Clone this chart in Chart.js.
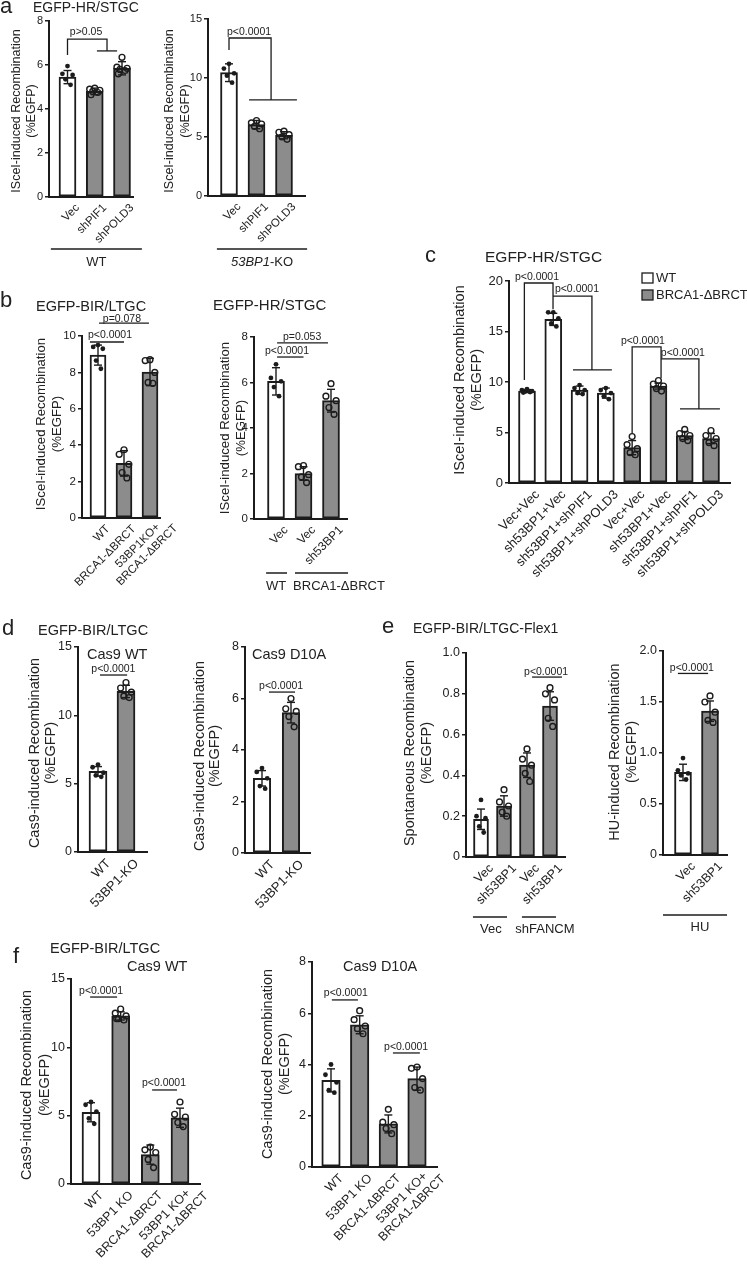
<!DOCTYPE html>
<html>
<head>
<meta charset="utf-8">
<script src="https://cdn.jsdelivr.net/npm/chart.js@4.4.1/dist/chart.umd.min.js"></script>
<style>
  html, body { margin: 0; padding: 0; background: #fff; }
  #page { position: relative; width: 747px; height: 1275px; overflow: hidden; }
  #page canvas { position: absolute; left: 0; top: 0; }
</style>
</head>
<body>
<div id="page"></div>
<script>
// ---- data ----
// a: EGFP-HR/STGC
const aCats = ['Vec', 'shPIF1', 'shPOLD3'];
const aWtMean = [5.45, 4.8, 5.85];
const aWtSd = [0.3, 0.15, 0.3];
const aWtDots = [[5.95, 5.6, 5.55, 5.35, 5.1], [4.95, 4.9, 4.85, 4.8, 4.75, 4.65], [6.35, 5.9, 5.85, 5.8, 5.75, 5.6]];
const aKoMean = [10.45, 6.05, 5.15];
const aKoSd = [0.75, 0.35, 0.3];
const aKoDots = [[11.2, 10.8, 10.4, 10.2, 9.6], [6.4, 6.2, 6.1, 5.9, 5.7], [5.5, 5.4, 5.2, 5.0, 4.8]];

// b
const bBirCats = ['WT', 'BRCA1-ΔBRCT', ['53BP1KO+', 'BRCA1-ΔBRCT']];
const bBirMean = [8.95, 3.0, 8.02];
const bBirSd = [0.55, 0.7, 0.75];
const bBirDots = [[9.5, 9.4, 9.3, 8.65, 8.2], [3.75, 3.5, 2.95, 2.5, 2.2], [8.7, 8.65, 8.0, 7.45, 7.4]];
const bHrCats = ['Vec', 'Vec', 'sh53BP1'];
const bHrMean = [6.05, 2.0, 5.2];
const bHrSd = [0.6, 0.3, 0.5];
const bHrDots = [[6.8, 6.2, 6.05, 5.8, 5.4], [2.35, 2.3, 1.95, 1.85, 1.6], [5.95, 5.4, 5.2, 4.9, 4.6]];

// c
const cCats = ['Vec+Vec', 'sh53BP1+Vec', 'sh53BP1+shPIF1', 'sh53BP1+shPOLD3',
               'Vec+Vec', 'sh53BP1+Vec', 'sh53BP1+shPIF1', 'sh53BP1+shPOLD3'];
const cSeries = ['WT', 'BRCA1-ΔBRCT'];
const cMean = [9.1, 16.2, 9.2, 8.9, 3.5, 9.6, 4.7, 4.4];
const cSd = [0.15, 0.6, 0.4, 0.5, 0.7, 0.3, 0.4, 0.5];
const cDots = [[9.3, 9.2, 9.1, 9.05, 9.0, 8.95], [16.9, 16.9, 16.3, 15.8, 15.5], [9.7, 9.4, 9.2, 8.9, 8.8],
               [9.4, 9.2, 8.9, 8.6, 8.3], [4.6, 3.8, 3.4, 3.0, 2.8], [10.15, 9.8, 9.6, 9.35, 9.1],
               [5.3, 4.9, 4.7, 4.4, 4.2], [5.2, 4.7, 4.4, 4.0, 3.7]];

// d
const dCats = ['WT', '53BP1-KO'];
const dWtMean = [5.9, 11.75];
const dWtSd = [0.35, 0.45];
const dWtDots = [[6.4, 6.2, 5.8, 5.6, 5.5], [12.4, 12.0, 11.7, 11.4, 11.3]];
const dNickMean = [2.9, 5.45];
const dNickSd = [0.3, 0.4];
const dNickDots = [[3.3, 3.15, 2.9, 2.6, 2.5], [6.0, 5.6, 5.5, 5.3, 4.9]];

// e
const eSponCats = ['Vec', 'sh53BP1', 'Vec', 'sh53BP1'];
const eSponMean = [0.185, 0.25, 0.45, 0.74];
const eSponSd = [0.05, 0.05, 0.06, 0.07];
const eSponDots = [[0.28, 0.2, 0.19, 0.15, 0.12], [0.33, 0.27, 0.25, 0.22, 0.2],
                   [0.53, 0.48, 0.45, 0.41, 0.37], [0.83, 0.8, 0.77, 0.68, 0.64]];
const eHuCats = ['Vec', 'sh53BP1'];
const eHuMean = [0.81, 1.41];
const eHuSd = [0.08, 0.1];
const eHuDots = [[0.95, 0.83, 0.8, 0.78, 0.74], [1.56, 1.5, 1.4, 1.32, 1.3]];

// f
const fCats = ['WT', '53BP1 KO', 'BRCA1-ΔBRCT', ['53BP1 KO+', 'BRCA1-ΔBRCT']];
const fWtMean = [5.25, 12.3, 2.15, 4.85];
const fWtSd = [0.7, 0.3, 0.7, 0.7];
const fWtDots = [[6.0, 5.8, 5.3, 4.8, 4.4], [12.8, 12.5, 12.3, 12.1, 12.0, 12.1],
                 [2.7, 2.5, 2.3, 1.8, 1.2], [6.0, 5.1, 4.9, 4.5, 4.2]];
const fNickMean = [3.38, 5.55, 1.68, 3.45];
const fNickSd = [0.45, 0.35, 0.35, 0.45];
const fNickDots = [[4.0, 3.6, 3.3, 3.0, 2.9], [6.1, 5.75, 5.5, 5.4, 5.2],
                   [2.25, 1.75, 1.65, 1.5, 1.3], [3.9, 3.85, 3.45, 3.1, 3.0]];

// ---- drawing ----
const W = 747, H = 1275;
const FONT = '"Liberation Sans", Arial, sans-serif';
const INK = '#1c1c1c';
const GREY = '#8c8c8c';
const JIT = [0, -0.3, 0.3, -0.12, 0.18, -0.22];
const page = document.getElementById('page');

function drawText(ctx, t, x, y, size, align) {
  const segs = Array.isArray(t) ? t : [[t, '']];
  const fontOf = s => (s[1] ? 'italic ' : '') + size + 'px ' + FONT;
  let w = 0;
  segs.forEach(s => { ctx.font = fontOf(s); w += ctx.measureText(s[0]).width; });
  let cx = align === 'left' ? x : (align === 'right' ? x - w : x - w / 2);
  ctx.textAlign = 'left';
  segs.forEach(s => {
    ctx.font = fontOf(s);
    ctx.fillText(s[0], cx, y);
    cx += ctx.measureText(s[0]).width;
  });
}

function poly(ctx, pts) {
  ctx.beginPath();
  pts.forEach(([x, y], i) => i ? ctx.lineTo(x, y) : ctx.moveTo(x, y));
  ctx.stroke();
}

function decorate(chart, p) {
  const ctx = chart.ctx;
  const X = v => chart.scales.x.getPixelForValue(v);
  const Y = v => chart.scales.y.getPixelForValue(v);
  ctx.save();
  ctx.strokeStyle = INK;
  ctx.fillStyle = '#222';

  // error bars (mean +/- SD)
  ctx.lineWidth = 1.4;
  p.means.forEach((m, i) => {
    const x = X(i), t = Y(m + p.sd[i]), b = Y(m - p.sd[i]), c = 4;
    poly(ctx, [[x, t], [x, b]]);
    poly(ctx, [[x - c, t], [x + c, t]]);
    poly(ctx, [[x - c, b], [x + c, b]]);
  });

  // category labels, 45 degrees, ending just right of the bar centre
  const lh = p.lf * 1.15;
  p.labels.forEach((lab, i) => {
    const lines = Array.isArray(lab) ? lab : [lab];
    ctx.save();
    ctx.translate(X(i) + 6, chart.chartArea.bottom + 5);
    ctx.rotate(-Math.PI / 4);
    ctx.font = p.lf + 'px ' + FONT;
    ctx.textBaseline = 'top';
    const w0 = ctx.measureText(lines[0]).width;
    const shift = -(lines.length - 1) * lh * 0.2;
    lines.forEach((ln, k) => {
      ctx.textAlign = k === 0 ? 'right' : 'center';
      ctx.fillText(ln, k === 0 ? 0 : -w0 / 2, shift + k * lh);
    });
    ctx.restore();
  });

  // significance brackets and p values
  ctx.lineWidth = 1.3;
  ctx.textBaseline = 'middle';
  (p.marks || []).forEach(m => {
    if (m.path) poly(ctx, m.path.map(([a, b]) => [X(a), Y(b)]));
    if (m.text) drawText(ctx, m.text, X(m.tx), Y(m.ty), 10.5, 'center');
  });

  // group lines under the axis
  ctx.lineWidth = 1.5;
  (p.groups || []).forEach(g => {
    poly(ctx, [[X(g.x0), g.y], [X(g.x1), g.y]]);
    const tx = g.tx !== undefined ? X(g.tx) : (X(g.x0) + X(g.x1)) / 2;
    drawText(ctx, g.text, tx, g.ty, 13, 'center');
  });

  // y axis title
  if (p.yTitle) {
    p.yTitle.lines.forEach((ln, k) => {
      ctx.save();
      ctx.translate(p.yTitle.x[k], p.yTitle.y);
      ctx.rotate(-Math.PI / 2);
      drawText(ctx, ln, 0, 0, p.yTitle.size, 'center');
      ctx.restore();
    });
  }

  // legend
  if (p.legend) {
    p.legend.names.forEach((name, k) => {
      const y = p.legend.y[k];
      ctx.fillStyle = p.legend.fills[k];
      ctx.fillRect(p.legend.x, y, 11, 10);
      ctx.lineWidth = 1.3;
      ctx.strokeRect(p.legend.x, y, 11, 10);
      ctx.fillStyle = '#222';
      drawText(ctx, name, p.legend.x + 14, y + 5.5, 13, 'left');
    });
  }

  // panel letters and titles
  ctx.textBaseline = 'alphabetic';
  (p.page || []).forEach(t => drawText(ctx, t.t, t.x, t.y, t.size, 'left'));
  ctx.restore();
}

function panel(p) {
  const canvas = document.createElement('canvas');
  canvas.width = W;
  canvas.height = H;
  page.appendChild(canvas);
  const n = p.labels.length;
  const sp = (p.c1 - p.c0) / (n - 1);
  const xmin = -(p.c0 - p.l) / sp;
  const xmax = (n - 1) + (p.r - p.c1) / sp;
  const isGrey = i => p.fill[i] === 'g';
  const dots = [], dotBg = [], dotR = [], dotBw = [];
  p.dots.forEach((arr, i) => arr.forEach((v, k) => {
    dots.push({ x: i + JIT[k % JIT.length] * p.bw / sp, y: v });
    const open = p.open[i];
    dotBg.push(open ? 'rgba(0,0,0,0)' : INK);
    dotR.push(open ? 2.9 : 2.4);
    dotBw.push(open ? 1.4 : 0);
  }));
  const YW = 30;
  const XH = Math.min(130, H - p.b);

  new Chart(canvas, {
    type: 'bar',
    data: {
      datasets: [
        {
          type: 'scatter',
          data: dots,
          pointRadius: dotR,
          pointBackgroundColor: dotBg,
          pointBorderColor: INK,
          pointBorderWidth: dotBw,
          clip: false,
          order: 0
        },
        {
          type: 'bar',
          data: p.means.map((m, i) => ({ x: i, y: m })),
          backgroundColor: p.means.map((_, i) => isGrey(i) ? GREY : '#ffffff'),
          borderColor: INK,
          borderWidth: 2,
          borderSkipped: false,
          barThickness: p.bw,
          order: 1
        }
      ]
    },
    options: {
      responsive: false,
      animation: false,
      events: [],
      layout: { padding: { left: p.l - YW, right: W - p.r, top: p.t, bottom: H - p.b - XH } },
      plugins: { legend: { display: false }, tooltip: { enabled: false } },
      scales: {
        x: {
          type: 'linear',
          min: xmin,
          max: xmax,
          offset: false,
          grid: { display: false, drawTicks: false },
          border: { display: true, color: INK, width: 2 },
          afterBuildTicks: s => { s.ticks = p.labels.map((_, i) => ({ value: i })); },
          afterFit: s => { s.height = XH; },
          ticks: { display: false }
        },
        y: {
          min: 0,
          max: p.ymax,
          afterFit: s => { s.width = YW; },
          grid: { display: true, drawOnChartArea: false, drawTicks: true, tickLength: 4, color: INK, lineWidth: 1.5 },
          border: { display: true, color: INK, width: 2 },
          ticks: {
            stepSize: p.step,
            padding: 2,
            color: '#222',
            font: { family: FONT, size: p.tf },
            callback: p.fmt || (v => v)
          }
        }
      }
    },
    plugins: [{ id: 'decor', afterDraw: chart => decorate(chart, p) }]
  });
}

const dec1 = v => v === 0 ? '0' : v.toFixed(1);

// a
panel({
  labels: aCats, means: aWtMean, sd: aWtSd, dots: aWtDots,
  fill: ['w', 'g', 'g'], open: [false, true, true],
  l: 49, r: 133, t: 21, b: 197, c0: 67.5, c1: 122, bw: 17, ymax: 8, step: 2, tf: 11, lf: 11.5,
  marks: [
    { path: [[0, 6.45], [0, 7.18], [1.45, 7.18], [1.45, 6.64]] },
    { path: [[1.08, 6.64], [1.82, 6.64]] },
    { text: 'p>0.05', tx: 0.68, ty: 7.5 }
  ],
  groups: [{ x0: -0.61, x1: 2.73, y: 249, text: 'WT', ty: 262 }],
  yTitle: { lines: ['ISceI-induced Recombination', '(%EGFP)'], x: [17, 32], y: 111, size: 12.5 },
  page: [{ t: 'a', x: 0, y: 13, size: 22 }, { t: 'EGFP-HR/STGC', x: 33, y: 12, size: 14 }]
});
panel({
  labels: aCats, means: aKoMean, sd: aKoSd, dots: aKoDots,
  fill: ['w', 'g', 'g'], open: [false, true, true],
  l: 208, r: 305, t: 19, b: 196, c0: 229, c1: 284, bw: 17, ymax: 15, step: 5, tf: 11, lf: 11.5,
  marks: [
    { path: [[0, 12.37], [0, 13.39], [1.53, 13.39], [1.53, 8.14]] },
    { path: [[0.73, 8.14], [2.47, 8.14]] },
    { text: 'p<0.0001', tx: 0.73, ty: 13.9 }
  ],
  groups: [{ x0: -0.44, x1: 2.84, y: 249, text: [['53BP1', 'i'], ['-KO', '']], ty: 262 }],
  yTitle: { lines: ['ISceI-induced Recombination', '(%EGFP)'], x: [170, 186], y: 111, size: 12.5 }
});

// b
panel({
  labels: bBirCats, means: bBirMean, sd: bBirSd, dots: bBirDots,
  fill: ['w', 'g', 'g'], open: [false, true, true],
  l: 82, r: 160, t: 336, b: 518, c0: 98, c1: 150, bw: 16, ymax: 10, step: 2, tf: 11.5, lf: 11.5,
  marks: [
    { path: [[-0.31, 9.67], [1.0, 9.67]] },
    { text: 'p<0.0001', tx: 0.46, ty: 10.05 },
    { path: [[0.04, 10.71], [1.96, 10.71]] },
    { text: 'p=0.078', tx: 0.92, ty: 10.95 }
  ],
  yTitle: { lines: ['ISceI-induced Recombination', '(%EGFP)'], x: [41, 57], y: 424, size: 13.2 },
  page: [{ t: 'b', x: 0, y: 307, size: 22 }, { t: 'EGFP-BIR/LTGC', x: 36, y: 311, size: 14.5 }]
});
panel({
  labels: bHrCats, means: bHrMean, sd: bHrSd, dots: bHrDots,
  fill: ['w', 'g', 'g'], open: [false, true, true],
  l: 254, r: 347, t: 337, b: 519, c0: 276, c1: 331, bw: 17, ymax: 8, step: 2, tf: 11.5, lf: 12,
  marks: [
    { path: [[0.04, 7.12], [1.0, 7.12]] },
    { text: 'p<0.0001', tx: 0.4, ty: 7.38 },
    { path: [[0.04, 7.74], [1.89, 7.74]] },
    { text: 'p=0.053', tx: 0.95, ty: 8.0 }
  ],
  groups: [
    { x0: -0.36, x1: 0.4, y: 573, text: 'WT', tx: 0, ty: 586 },
    { x0: 0.69, x1: 2.62, y: 573, text: 'BRCA1-ΔBRCT', tx: 2.29, ty: 586 }
  ],
  yTitle: { lines: ['ISceI-induced Recombination', '(%EGFP)'], x: [225, 241], y: 428, size: 13.2 },
  page: [{ t: 'EGFP-HR/STGC', x: 213, y: 310, size: 15 }]
});

// c
panel({
  labels: cCats, means: cMean, sd: cSd, dots: cDots,
  fill: ['w', 'w', 'w', 'w', 'g', 'g', 'g', 'g'], open: [false, false, false, false, true, true, true, true],
  l: 509, r: 730, t: 281, b: 483, c0: 527, c1: 711, bw: 17, ymax: 20, step: 5, tf: 13, lf: 13,
  marks: [
    { path: [[-0.1, 10.2], [-0.1, 19.8], [0.99, 19.8], [0.99, 17.2]] },
    { text: 'p<0.0001', tx: 0.38, ty: 20.35 },
    { path: [[0.99, 18.5], [2.47, 18.5], [2.47, 11.2]] },
    { path: [[1.75, 11.2], [3.23, 11.2]] },
    { text: 'p<0.0001', tx: 1.9, ty: 19.2 },
    { path: [[4, 4.95], [4, 13.47], [5.1, 13.47], [5.1, 10.4]] },
    { text: 'p<0.0001', tx: 4.41, ty: 14.06 },
    { path: [[5.1, 12.28], [6.54, 12.28], [6.54, 7.33]] },
    { path: [[5.82, 7.33], [7.34, 7.33]] },
    { text: 'p<0.0001', tx: 5.93, ty: 12.87 }
  ],
  legend: { names: cSeries, fills: ['#ffffff', GREY], x: 642, y: [273, 290] },
  yTitle: { lines: ['ISceI-induced Recombination', '(%EGFP)'], x: [460, 477], y: 380, size: 14.5 },
  page: [{ t: 'c', x: 425, y: 262, size: 22 }, { t: 'EGFP-HR/STGC', x: 485, y: 262, size: 15.5 }]
});

// d
panel({
  labels: dCats, means: dWtMean, sd: dWtSd, dots: dWtDots,
  fill: ['w', 'g'], open: [false, true],
  l: 78, r: 147, t: 647, b: 852, c0: 98, c1: 126, bw: 18, ymax: 15, step: 5, tf: 12.5, lf: 13,
  marks: [
    { path: [[0.07, 12.95], [1.04, 12.95]] },
    { text: 'p<0.0001', tx: 0.55, ty: 13.35 }
  ],
  yTitle: { lines: ['Cas9-induced Recombination', '(%EGFP)'], x: [35, 51], y: 753, size: 14.5 },
  page: [{ t: 'd', x: 2, y: 635, size: 22 }, { t: 'EGFP-BIR/LTGC', x: 38, y: 635, size: 14.5 },
         { t: 'Cas9 WT', x: 87, y: 659, size: 14.5 }]
});
panel({
  labels: dCats, means: dNickMean, sd: dNickSd, dots: dNickDots,
  fill: ['w', 'g'], open: [false, true],
  l: 245, r: 310, t: 647, b: 853, c0: 262, c1: 291, bw: 17.5, ymax: 8, step: 2, tf: 12.5, lf: 13,
  marks: [
    { path: [[0.24, 6.25], [1.14, 6.25]] },
    { text: 'p<0.0001', tx: 0.66, ty: 6.47 }
  ],
  yTitle: { lines: ['Cas9-induced Recombination', '(%EGFP)'], x: [200, 215], y: 756, size: 14.5 },
  page: [{ t: 'Cas9 D10A', x: 252, y: 659, size: 14.5 }]
});

// e
panel({
  labels: eSponCats, means: eSponMean, sd: eSponSd, dots: eSponDots,
  fill: ['w', 'g', 'g', 'g'], open: [false, true, true, true],
  l: 466, r: 565, t: 653, b: 857, c0: 481, c1: 550, bw: 15, ymax: 1, step: 0.2, tf: 12.5, lf: 12.5, fmt: dec1,
  marks: [
    { path: [[2.22, 0.882], [3.52, 0.882]] },
    { text: 'p<0.0001', tx: 2.83, ty: 0.907 }
  ],
  groups: [
    { x0: -0.35, x1: 1.13, y: 917, text: 'Vec', tx: 0.43, ty: 929 },
    { x0: 1.78, x1: 3.26, y: 917, text: 'shFANCM', tx: 2.78, ty: 929 }
  ],
  yTitle: { lines: ['Spontaneous Recombination', '(%EGFP)'], x: [410, 427], y: 753, size: 14.5 },
  page: [{ t: 'e', x: 382, y: 633, size: 22 }, { t: 'EGFP-BIR/LTGC-Flex1', x: 413, y: 633, size: 14 }]
});
panel({
  labels: eHuCats, means: eHuMean, sd: eHuSd, dots: eHuDots,
  fill: ['w', 'g'], open: [false, true],
  l: 663, r: 727, t: 651, b: 855, c0: 683, c1: 710, bw: 17, ymax: 2, step: 0.5, tf: 12.5, lf: 12.5, fmt: dec1,
  marks: [
    { path: [[-0.19, 1.78], [0.93, 1.78]] },
    { text: 'p<0.0001', tx: 0.33, ty: 1.83 }
  ],
  groups: [{ x0: -0.74, x1: 1.63, y: 915, text: 'HU', tx: 0.63, ty: 927 }],
  yTitle: { lines: ['HU-induced Recombination', '(%EGFP)'], x: [615, 632], y: 752, size: 14.5 }
});

// f
panel({
  labels: fCats, means: fWtMean, sd: fWtSd, dots: fWtDots,
  fill: ['w', 'g', 'g', 'g'], open: [false, true, true, true],
  l: 71, r: 200, t: 979, b: 1184, c0: 91, c1: 180, bw: 18, ymax: 15, step: 5, tf: 12.5, lf: 12.5,
  marks: [
    { path: [[-0.03, 13.68], [0.88, 13.68]] },
    { text: 'p<0.0001', tx: 0.34, ty: 14.12 },
    { path: [[2.06, 6.88], [2.9, 6.88]] },
    { text: 'p<0.0001', tx: 2.46, ty: 7.39 }
  ],
  yTitle: { lines: ['Cas9-induced Recombination', '(%EGFP)'], x: [27, 45], y: 1085, size: 14.5 },
  page: [{ t: 'f', x: 13, y: 963, size: 22 }, { t: 'EGFP-BIR/LTGC', x: 50, y: 953, size: 14.5 },
         { t: 'Cas9 WT', x: 127, y: 971, size: 14.5 }]
});
panel({
  labels: fCats, means: fNickMean, sd: fNickSd, dots: fNickDots,
  fill: ['w', 'g', 'g', 'g'], open: [false, true, true, true],
  l: 312, r: 437, t: 962, b: 1167, c0: 331, c1: 417, bw: 18.5, ymax: 8, step: 2, tf: 12.5, lf: 12.5,
  marks: [
    { path: [[0.03, 6.52], [0.94, 6.52]] },
    { text: 'p<0.0001', tx: 0.52, ty: 6.8 },
    { path: [[2.16, 4.45], [3.1, 4.45]] },
    { text: 'p<0.0001', tx: 2.62, ty: 4.69 }
  ],
  yTitle: { lines: ['Cas9-induced Recombination', '(%EGFP)'], x: [268, 285], y: 1064, size: 14.5 },
  page: [{ t: 'Cas9 D10A', x: 343, y: 971, size: 14.5 }]
});
</script>
</body>
</html>
